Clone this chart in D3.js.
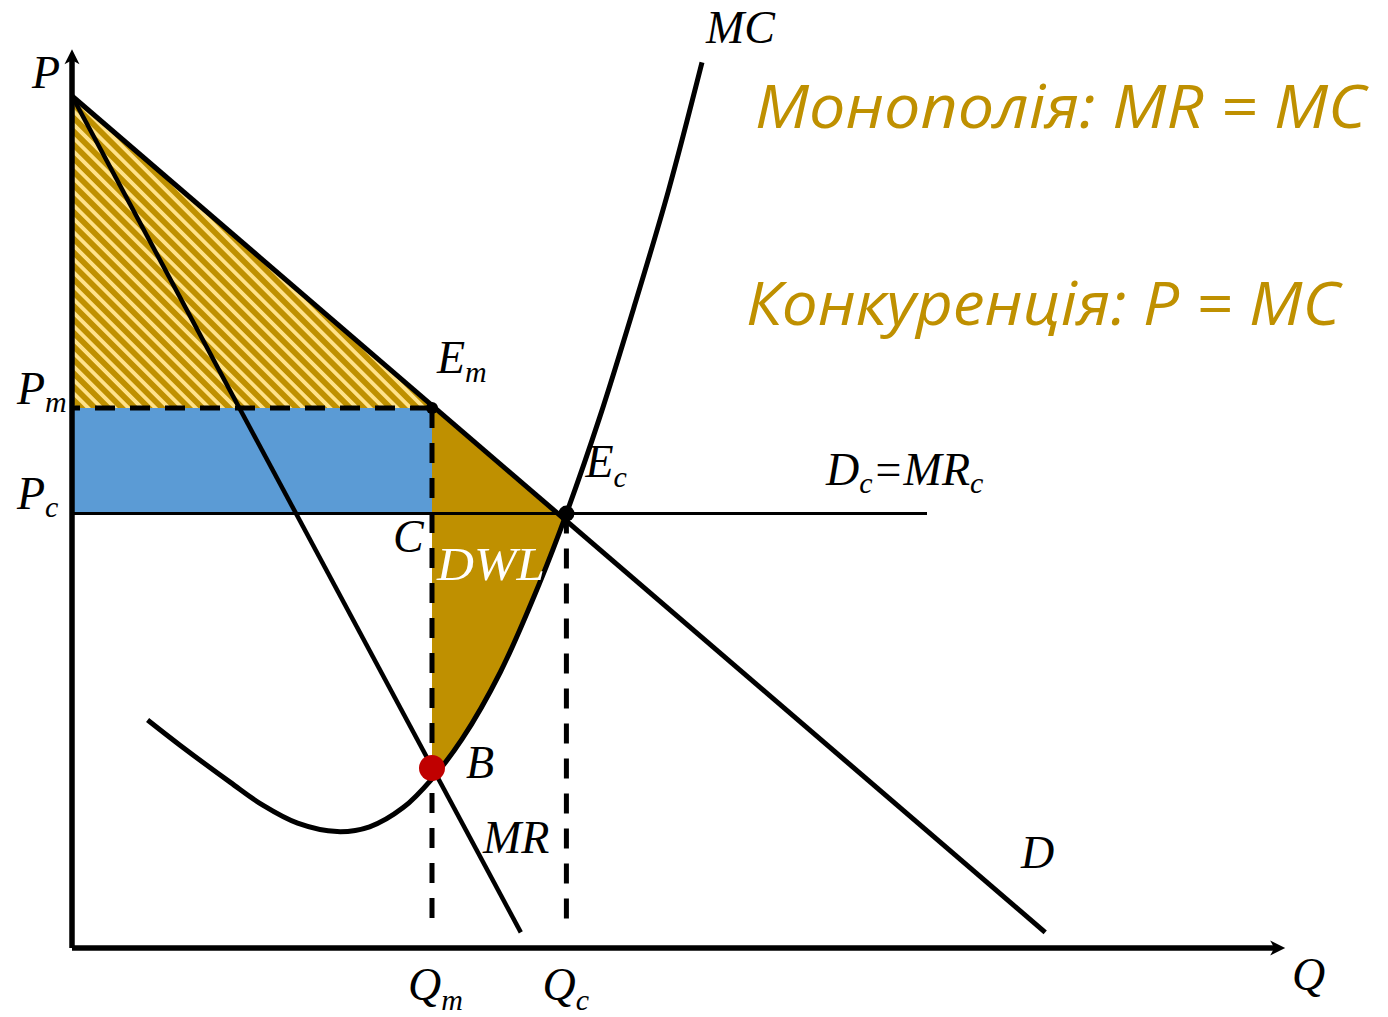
<!doctype html>
<html>
<head>
    <meta charset="utf-8">
    <title>Монополія і конкуренція</title>
    <script src="https://cdn.jsdelivr.net/npm/d3@7"></script>
    <style>
        body {
            margin: 0;
            background: #fff;
        }

        svg {
            display: block;
        }

        .lbl {
            font-family: "Liberation Serif", "Times New Roman", serif;
            font-style: italic;
            font-size: 46px;
            fill: #000;
        }

        .lbl tspan.sub {
            font-size: 30px;
        }

        .gold {
            font-family: "Open Sans", "Noto Sans", sans-serif;
            font-style: italic;
            font-size: 60px;
            fill: #BF9000;
        }
    </style>
</head>

<body>
    <script>
        "use strict";

        // demand, marginal revenue, marginal cost (Q, P in chart units)
        const demandQ = [0, 81.1];
        const demandP = [71, 1.3];
        const mrQ = [0, 37.4];
        const mrP = [71, 1.3];
        const mcQ = [6.3, 9, 13.2, 15.9, 18.8, 22.1, 24.8, 27.6, 30, 32.5, 35.7, 39, 41.2, 44, 46.8, 49.7, 52.5];
        const mcP = [19, 16.9, 13.8, 11.9, 10.4, 9.7, 10.1, 11.7, 14.1, 17.4, 23, 30.5, 36.2, 44.3, 53.3, 63.1, 73.8];

        // equilibrium levels
        const priceNames = ["m", "c"];
        const priceLevels = [45, 36.2];
        const quantityLevels = [30, 41.2];
        const pointB = [30, 15];
        const compLineEnd = 71.25;

        const headlines = ["Монополія: MR = MC", "Конкуренція: P = MC"];

        const width = 1388;
        const height = 1017;

        const x = d3.scaleLinear().domain([0, 100]).range([72, 1272]);
        const y = d3.scaleLinear().domain([0, 75]).range([948, 48]);

        const [Pm, Pc] = priceLevels;
        const [Qm, Qc] = quantityLevels;

        const demand = demandQ.map((q, i) => [q, demandP[i]]);
        const mr = mrQ.map((q, i) => [q, mrP[i]]);
        const mc = mcQ.map((q, i) => [q, mcP[i]]);

        const dSlope = (demandP[1] - demandP[0]) / (demandQ[1] - demandQ[0]);
        const qOfD = p => demandQ[0] + (p - demandP[0]) / dSlope;

        const line = d3.line().x(d => x(d[0])).y(d => y(d[1]));
        const curve = d3.line().curve(d3.curveCatmullRom.alpha(0.5)).x(d => x(d[0])).y(d => y(d[1]));

        const svg = d3.select("body").append("svg")
            .attr("width", width)
            .attr("height", height)
            .attr("viewBox", [0, 0, width, height]);

        const defs = svg.append("defs");

        const pat = defs.append("pattern")
            .attr("id", "hatch")
            .attr("patternUnits", "userSpaceOnUse")
            .attr("width", 9.5)
            .attr("height", 9.5)
            .attr("patternTransform", "rotate(-45)");
        pat.append("rect").attr("width", 9.5).attr("height", 9.5).attr("fill", "#BF9000");
        pat.append("rect").attr("x", 0).attr("width", 3.8).attr("height", 9.5).attr("fill", "#FFE28A");

        // area above MC, used to clip the deadweight loss
        defs.append("clipPath").attr("id", "aboveMC")
            .append("path")
            .attr("d", curve(mc) + `L${x(mcQ[mcQ.length - 1])},0L${x(mcQ[0])},0Z`);

        // consumer surplus (hatched)
        svg.append("path")
            .attr("d", line([[0, demandP[0]], [Qm, Pm], [0, Pm]]) + "Z")
            .attr("fill", "url(#hatch)");

        // transferred surplus
        svg.append("rect")
            .attr("x", x(0))
            .attr("y", y(Pm))
            .attr("width", x(Qm) - x(0))
            .attr("height", y(Pc) - y(Pm))
            .attr("fill", "#5B9BD5");

        // deadweight loss
        svg.append("path")
            .attr("clip-path", "url(#aboveMC)")
            .attr("d", line([[Qm, Pm], [qOfD(Pc), Pc], [Qc, Pc], [Qc, 0], [Qm, 0]]) + "Z")
            .attr("fill", "#BF9000");

        // competitive price line
        svg.append("path")
            .attr("d", line([[0, Pc], [compLineEnd, Pc]]))
            .attr("stroke", "#000")
            .attr("stroke-width", 3)
            .attr("fill", "none");

        // dashed guides
        const dashed = svg.append("g")
            .attr("stroke", "#000")
            .attr("stroke-width", 5)
            .attr("stroke-dasharray", "20,15")
            .attr("fill", "none");
        dashed.append("path").attr("d", line([[0, Pm], [Qm, Pm]])).attr("stroke-dashoffset", 12);
        dashed.append("path").attr("d", line([[Qm, Pm], [Qm, 1.3]]));
        dashed.append("path").attr("d", line([[Qc, Pc], [Qc, 1.3]]));

        // curves
        const curves = svg.append("g")
            .attr("stroke", "#000")
            .attr("fill", "none")
            .attr("stroke-linejoin", "round");
        curves.append("path").attr("d", line(demand)).attr("stroke-width", 5);
        curves.append("path").attr("d", line(mr)).attr("stroke-width", 4.5);
        curves.append("path").attr("d", curve(mc)).attr("stroke-width", 5);

        // axes
        const axes = svg.append("g").attr("stroke", "#000").attr("stroke-width", 5.5).attr("fill", "none");
        axes.append("path").attr("d", line([[0, 0], [0, 74.2]]));
        axes.append("path").attr("d", line([[0, 0], [100.5, 0]]));
        const arrow = "M0,0L-15,-7.5L-11,0L-15,7.5Z";
        svg.append("path").attr("d", arrow).attr("fill", "#000")
            .attr("transform", `translate(${x(0)},${y(74.9)}) rotate(-90)`);
        svg.append("path").attr("d", arrow).attr("fill", "#000")
            .attr("transform", `translate(${x(101.1)},${y(0)})`);

        // points
        svg.append("circle").attr("cx", x(Qm)).attr("cy", y(Pm)).attr("r", 6).attr("fill", "#000");
        svg.append("circle").attr("cx", x(Qc)).attr("cy", y(Pc)).attr("r", 8).attr("fill", "#000");
        svg.append("circle").attr("cx", x(pointB[0])).attr("cy", y(pointB[1])).attr("r", 13).attr("fill", "#C00000");

        // labels
        function label(px, py, main, sub, dy) {
            const t = svg.append("text").attr("class", "lbl").attr("x", px).attr("y", py);
            t.append("tspan").text(main);
            if (sub) {
                t.append("tspan").attr("class", "sub").attr("dy", dy).text(sub);
            }
            return t;
        }

        label(32, 88, "P");
        label(1292, 990, "Q");
        label(706, 43, "MC");
        priceLevels.forEach((p, i) => {
            label(17, y(p) - 4 - i, "P", priceNames[i], 8);
        });
        quantityLevels.forEach((q, i) => {
            label(x(q) - 24, 1000, "Q", priceNames[i], 10);
        });
        label(x(Qm) + 5, y(Pm) - 35, "E", "m", 9);
        label(x(Qc) + 19, y(Pc) - 37, "E", "c", 10);
        label(393, y(Pc) + 38, "C");
        label(x(Qm) + 5, y(Pc) + 66, "DWL")
            .style("fill", "#fff")
            .attr("textLength", 108)
            .attr("lengthAdjust", "spacingAndGlyphs");
        label(x(pointB[0]) + 34, y(pointB[1]) + 10, "B");
        label(483, 853, "MR");
        label(1021, 868, "D");

        const dc = svg.append("text").attr("class", "lbl").attr("x", 826).attr("y", 485);
        dc.append("tspan").text("D");
        dc.append("tspan").attr("class", "sub").attr("dy", 8).text("c");
        dc.append("tspan").attr("dy", -8).text("=MR");
        dc.append("tspan").attr("class", "sub").attr("dy", 8).text("c");

        svg.append("text").attr("class", "gold")
            .attr("x", 755).attr("y", 128)
            .attr("textLength", 611).attr("lengthAdjust", "spacingAndGlyphs")
            .text(headlines[0]);
        svg.append("text").attr("class", "gold")
            .attr("x", 746).attr("y", 325)
            .attr("textLength", 594).attr("lengthAdjust", "spacingAndGlyphs")
            .text(headlines[1]);
    </script>
</body>

</html>
